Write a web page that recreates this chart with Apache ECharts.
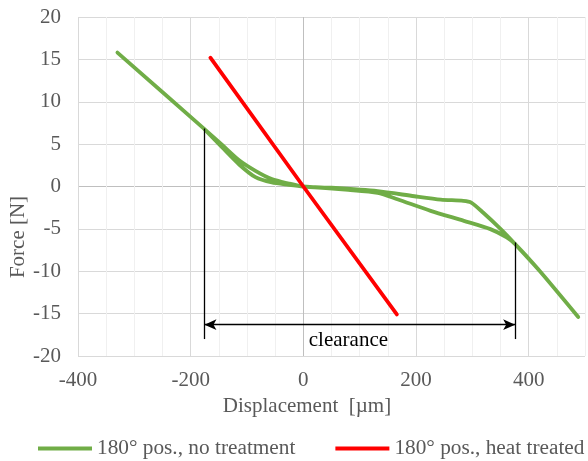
<!DOCTYPE html>
<html>
<head>
<meta charset="utf-8">
<script src="https://cdn.jsdelivr.net/npm/echarts@6/dist/echarts.min.js"></script>
<style>
  html, body { margin: 0; padding: 0; background: #fff; }
  #chart { width: 588px; height: 461px; }
</style>
</head>
<body>
<div id="chart"></div>
<script>
// displacement [µm], force [N]
var greenStart = [[-330, 15.8], [-176, 6.8]];
var greenLeftUpper = [[-176, 6.8], [-144, 4.9], [-114, 3.1], [-85, 1.85], [-56, 0.87], [-26, 0.35], [0, 0]];
var greenRightUpper = [[0, 0], [50, -0.15], [132, -0.55], [197, -1.15], [244, -1.55], [284, -1.69], [298, -1.9], [319, -3.07], [350, -5.0], [376, -6.8], [420, -10.0], [488, -15.4]];
var greenRightLower = [[376, -6.8], [361, -6.0], [332, -5.03], [285, -4.05], [226, -2.87], [167, -1.5], [132, -0.75], [80, -0.4], [0, 0]];
var greenLeftLower = [[0, 0], [-26, 0.2], [-56, 0.47], [-85, 1.1], [-114, 2.6], [-144, 4.6], [-176, 6.8]];
var redLine = [[-165, 15.2], [0, 0], [166, -15.1]];

var seriesNames = ['180° pos., no treatment', '180° pos., heat treated'];
var clearanceLeft = -175.5, clearanceRight = 376;
var clearanceTopLeft = 6.84, clearanceTopRight = -6.6, clearanceBottom = -18.0, arrowY = -16.3;
var clearanceLabel = [80, -18.2];

var xTicks = [-400, -200, 0, 200, 400];

// one continuous path through the loop
var greenPath = greenStart
  .concat(greenLeftUpper.slice(1))
  .concat(greenRightUpper.slice(1))
  .concat([[420, -10.0], [376, -6.8]])
  .concat(greenRightLower.slice(1))
  .concat(greenLeftLower.slice(1));

var textGray = '#595959';
var font = 'Liberation Serif';
var tickRich = { t: { fontFamily: font, fontSize: 21, color: textGray } };

// vertical grid: every 50, major every 200, darker at 0
var xLineColors = [];
for (var v = -400; v <= 500; v += 50) {
  if (v === 0) xLineColors.push('#bfbfbf');
  else if (v % 200 === 0) xLineColors.push('#d9d9d9');
  else xLineColors.push('#f0f0f0');
}
var yLineColors = [];
for (var w = -20; w <= 20; w += 5) {
  yLineColors.push(w === 0 ? '#bfbfbf' : '#d9d9d9');
}

var chart = echarts.init(document.getElementById('chart'));
chart.setOption({
  animation: false,
  textStyle: { fontFamily: font },
  grid: { left: 78, right: 0, top: 17, bottom: 105, containLabel: false },
  xAxis: {
    type: 'value',
    min: -400, max: 500, interval: 50,
    axisLine: { show: false },
    axisTick: { show: false },
    axisLabel: {
      margin: 14,
      fontFamily: font, fontSize: 21, color: textGray,
      rich: tickRich,
      formatter: function (val) { return xTicks.indexOf(val) >= 0 ? '{t|' + val + '}' : ''; }
    },
    splitLine: { show: true, lineStyle: { color: xLineColors, width: 1 } }
  },
  yAxis: {
    type: 'value',
    min: -20, max: 20, interval: 5,
    axisLine: { show: false },
    axisTick: { show: false },
    axisLabel: {
      margin: 17,
      fontFamily: font, fontSize: 21, color: textGray,
      rich: tickRich,
      formatter: function (val) { return '{t|' + val + '}'; }
    },
    splitLine: { show: true, lineStyle: { color: yLineColors, width: 1 } }
  },
  legend: {
    data: seriesNames,
    left: 38, top: 438, width: 560,
    padding: 0,
    icon: 'rect',
    itemWidth: 54, itemHeight: 4, itemGap: 40,
    textStyle: { color: textGray, fontFamily: font, fontSize: 21.3 }
  },
  graphic: [
    {
      type: 'text', x: 18, y: 237, rotation: Math.PI / 2,
      style: { text: 'Force [N]', fill: textGray, font: '21px "Liberation Serif"', textAlign: 'center', textVerticalAlign: 'middle' }
    },
    {
      type: 'text', x: 307, y: 406,
      style: { text: 'Displacement  [µm]', fill: textGray, font: '21px "Liberation Serif"', textAlign: 'center', textVerticalAlign: 'middle' }
    }
  ],
  series: [
    {
      name: seriesNames[0],
      type: 'line',
      data: greenPath,
      symbol: 'none',
      smooth: 0.25,
      lineStyle: { color: '#70ad47', width: 3.8, join: 'round', cap: 'round' },
      itemStyle: { color: '#70ad47' },
      z: 3
    },
    {
      name: seriesNames[1],
      type: 'line',
      data: redLine,
      symbol: 'none',
      lineStyle: { color: '#ff0000', width: 3.8, cap: 'round' },
      itemStyle: { color: '#ff0000' },
      z: 4
    },
    {
      name: 'clearance',
      type: 'line',
      data: [],
      z: 5,
      markLine: {
        silent: true,
        animation: false,
        label: { show: false },
        lineStyle: { color: '#000', width: 1.3, type: 'solid' },
        symbol: 'none',
        data: [
          [{ coord: [clearanceLeft, clearanceTopLeft] }, { coord: [clearanceLeft, clearanceBottom] }],
          [{ coord: [clearanceRight, clearanceTopRight] }, { coord: [clearanceRight, clearanceBottom] }],
          [{ coord: [clearanceLeft, arrowY], symbol: 'arrow', symbolSize: [8, 12] },
           { coord: [clearanceRight, arrowY], symbol: 'arrow', symbolSize: [8, 12] }]
        ]
      },
      markPoint: {
        silent: true,
        symbol: 'rect',
        symbolSize: 1,
        itemStyle: { color: 'rgba(0,0,0,0)' },
        label: { show: true, position: 'inside', formatter: 'clearance', color: '#000', fontFamily: font, fontSize: 21 },
        data: [{ coord: clearanceLabel }]
      }
    }
  ]
});
</script>
</body>
</html>
